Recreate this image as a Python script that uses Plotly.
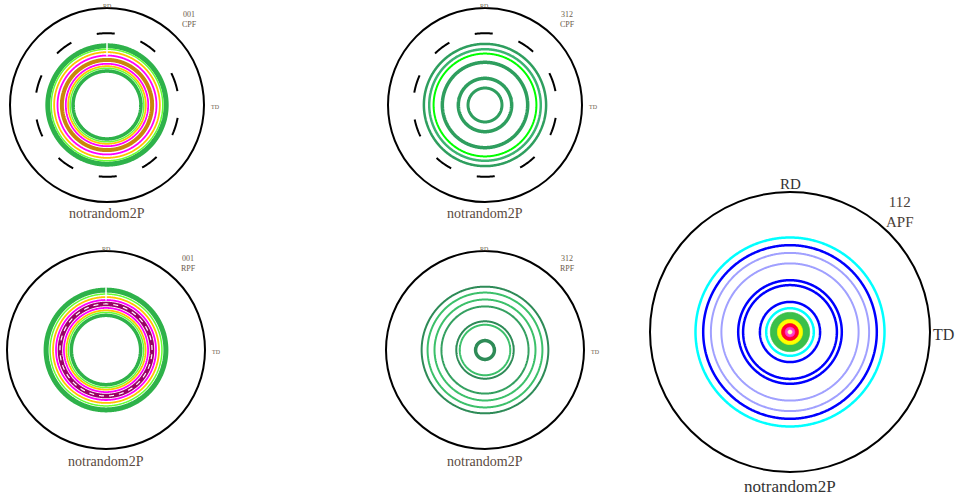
import plotly.graph_objects as go
import numpy as np

W, H = 958, 496

# ---- contour ring radii (fraction of the pole-figure radius) ----
# 001 CPF
cpf001_radii = [0.74, 0.61, 0.575, 0.545, 0.51, 0.465, 0.425, 0.40, 0.38, 0.35]
# 312 CPF
cpf312_radii = [0.74, 0.63, 0.575, 0.53, 0.44, 0.275, 0.175]
# 001 RPF
rpf001_radii = [0.605, 0.565, 0.535, 0.505, 0.465, 0.465, 0.425, 0.40, 0.38, 0.35]
# 312 RPF
rpf312_radii = [0.64, 0.58, 0.51, 0.44, 0.29, 0.255, 0.095]
# 112 APF
apf112_radii = [0.675, 0.62, 0.565, 0.49, 0.37, 0.335, 0.215, 0.17]
apf112_core = [0.14, 0.09, 0.06, 0.035, 0.015]

panel_names = ["001\nCPF", "312\nCPF", "001\nRPF", "312\nRPF", "112\nAPF"]
sample_name = "notrandom2P"

# ---- styles ----
GREEN, LIME, YEL, MAG = "#2eb24a", "#66ff33", "#ffc400", "#ff00ff"
cpf001_style = [("black", 2, "18px,27px"), (GREEN, 5, None), (LIME, 1.5, None),
                (YEL, 1.8, None), (MAG, 1.8, None), ("#c8860b", 4, None),
                (MAG, 1.8, None), (YEL, 1.8, None), (LIME, 1.5, None), (GREEN, 3.5, None)]
cpf312_style = [("black", 2, "18px,27px"), ("#2e9e5e", 2.5, None), ("#3cb371", 2.5, None),
                ("#00ff00", 2, None), ("#2e9e5e", 3.5, None), ("#2e9e5e", 3.5, None),
                ("#2e9e5e", 3, None)]
rpf001_style = [(GREEN, 5, None), (LIME, 1.5, None), (YEL, 1.8, None), (MAG, 1.8, None),
                ("#990066", 4.5, None), ("white", 1.2, "5px,5px"),
                (MAG, 1.8, None), (YEL, 1.8, None), (LIME, 1.5, None), (GREEN, 3.5, None)]
rpf312_style = [("#2e8b57", 2, None), ("#3cc06a", 2, None), ("#3cc06a", 2, None),
                ("#34a060", 2, None), ("#2e8b57", 2, None), ("#3cc06a", 2, None),
                ("#2e8b57", 3.5, None)]
apf112_style = [("#00ffff", 2.5, None), ("#0000ff", 2.5, None), ("#a0a0ff", 2, None),
                ("#a0a0ff", 2, None), ("#0000ff", 2.5, None), ("#0000ff", 2.5, None),
                ("#0000ff", 2.5, None), ("#00ffff", 2.5, None)]
apf112_core_colors = ["#3cc04a", "#ffff00", "#ff0033", "#ff44cc", "#ffffcc"]

# panel centres / radii in pixels
panels = [
    dict(cx=107, cy=105, R=97, radii=cpf001_radii, style=cpf001_style, big=False),
    dict(cx=485, cy=105, R=97, radii=cpf312_radii, style=cpf312_style, big=False),
    dict(cx=106, cy=350, R=99, radii=rpf001_radii, style=rpf001_style, big=False),
    dict(cx=485, cy=350, R=99, radii=rpf312_radii, style=rpf312_style, big=False),
    dict(cx=790, cy=332, R=140, radii=apf112_radii, style=apf112_style, big=True),
]

fig = go.Figure()
theta_full = np.linspace(0, 360, 721)


def ring(r, color, width, dash, sub, start=0.0):
    th = theta_full + start
    fig.add_trace(go.Scatterpolar(
        r=[r] * len(th), theta=th, mode="lines", subplot=sub,
        line=dict(color=color, width=width, dash=dash),
        hoverinfo="skip", showlegend=False))


annotations = []


def label(x, y, text, size, color="#4a4038", xanchor="center"):
    annotations.append(dict(
        x=x / W, y=1 - y / H, xref="paper", yref="paper", text=text.replace("\n", "<br>"),
        showarrow=False, xanchor=xanchor, yanchor="middle",
        font=dict(family="Liberation Serif", size=size, color=color)))


for i, p in enumerate(panels):
    sub = "polar" if i == 0 else f"polar{i + 1}"
    cx, cy, R = p["cx"], p["cy"], p["R"]
    fig.update_layout(**{sub: dict(
        domain=dict(x=[(cx - R) / W, (cx + R) / W],
                    y=[(H - cy - R) / H, (H - cy + R) / H]),
        bgcolor="white",
        radialaxis=dict(visible=False, range=[0, 1]),
        angularaxis=dict(showline=True, linecolor="black", linewidth=2,
                         showgrid=False, showticklabels=False, ticks=""),
    )})
    for r, (c, w, d) in zip(p["radii"], p["style"]):
        ring(r, c, w, d, sub, start=12 if d and c == "black" else 0)

    if i in (0, 2):
        # small white gap in the bands at RD
        fig.add_trace(go.Scatterpolar(
            r=[0.50, 0.66], theta=[90, 90], mode="lines", subplot=sub,
            line=dict(color="white", width=1.5), hoverinfo="skip", showlegend=False))

    if p["big"]:
        # filled core of the 112 APF maximum
        for r, c in zip(apf112_core, apf112_core_colors):
            fig.add_trace(go.Scatterpolar(
                r=[r] * len(theta_full), theta=theta_full, mode="lines", subplot=sub,
                fill="toself", fillcolor=c, line=dict(color=c, width=1),
                hoverinfo="skip", showlegend=False))
        label(cx, cy - R - 8, "RD", 15, "#333333")
        label(cx + R + 13, cy + 2, "TD", 16, "#333333")
        label(cx + 110, cy - R + 20, panel_names[i], 15, "#4a4038")
        label(cx, cy + R + 14, sample_name, 17, "#333333")
    else:
        label(cx, cy - R - 2, "RD", 6, "#6b5a4a")
        label(cx + R + 11, cy + 2, "TD", 6, "#6b5a4a")
        label(cx + 82, cy - R + 12, panel_names[i], 8, "#6b5a4a")
        label(cx, cy + R + 12, sample_name, 14, "#5a4a3e")

fig.update_layout(
    width=W, height=H, margin=dict(l=0, r=0, t=0, b=0),
    paper_bgcolor="white", plot_bgcolor="white",
    showlegend=False, annotations=annotations,
)

fig.write_html("out.html")
